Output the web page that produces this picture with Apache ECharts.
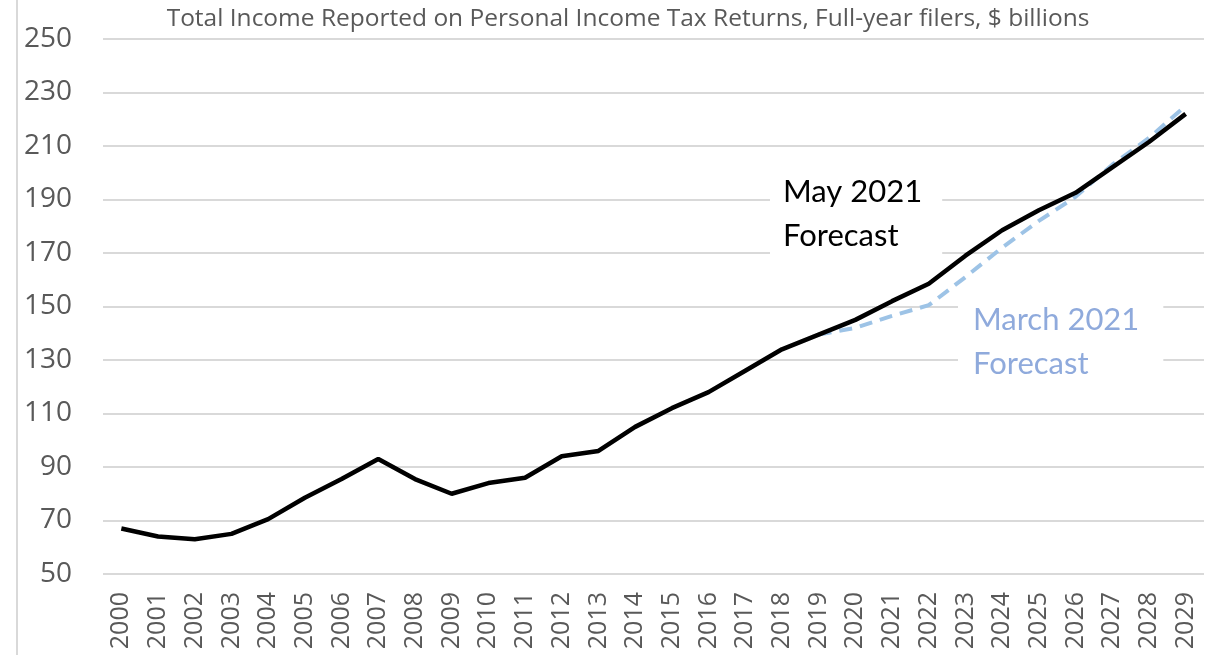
<!DOCTYPE html>
<html>
<head>
<meta charset="utf-8">
<script src="https://cdn.jsdelivr.net/npm/echarts@6/dist/echarts.min.js"></script>
<style>html,body{margin:0;padding:0;background:#fff}#c{width:1217px;height:655px}</style>
</head>
<body>
<div id="c"></div>
<script>
const years = ['2000','2001','2002','2003','2004','2005','2006','2007','2008','2009','2010','2011','2012','2013','2014','2015','2016','2017','2018','2019','2020','2021','2022','2023','2024','2025','2026','2027','2028','2029'];
const may2021 = [67,64,63,65,70.5,78.5,85.5,93,85.5,80,84,86,94,96,105,112,118,126,134,139.5,145,152,158.5,169,178.5,186,192.5,202,211.5,222];
const march2021 = [null,null,null,null,null,null,null,null,null,null,null,null,null,null,null,null,null,null,null,139.5,142,146.5,150.5,161,172,182,191,203,213,225];
const titleText = 'Total Income Reported on Personal Income Tax Returns, Full-year filers, $ billions';
const mayLabel = 'May 2021\nForecast';
const marchLabel = 'March 2021\nForecast';

const chart = echarts.init(document.getElementById('c'), null, {renderer:'canvas'});
const sans = '"Open Sans", sans-serif';
const lato = 'Lato, sans-serif';
chart.setOption({
  backgroundColor:'#fff',
  animation:false,
  title:{text:titleText,left:623,top:2,textAlign:'center',
    textStyle:{fontFamily:sans,fontSize:24.5,fontWeight:'normal',color:'#595959'}},
  grid:{left:103,right:13,top:39,bottom:81,containLabel:false},
  xAxis:{type:'category',data:years,boundaryGap:true,
    axisLine:{show:false},axisTick:{show:false},
    axisLabel:{rotate:90,fontFamily:sans,fontSize:25,color:'#595959',margin:18,interval:0}},
  yAxis:{type:'value',min:50,max:250,interval:20,
    axisLine:{show:false},axisTick:{show:false},
    splitLine:{lineStyle:{color:'#d9d9d9',width:2}},
    axisLabel:{fontFamily:sans,fontSize:28,color:'#595959',margin:31}},
  series:[
    {name:'March 2021 Forecast',type:'line',data:march2021,symbol:'none',
      lineStyle:{color:'#9dc3e6',width:4,type:[13,8]},z:2},
    {name:'May 2021 Forecast',type:'line',data:may2021,symbol:'none',
      lineStyle:{color:'#000',width:4.5},z:3}
  ],
  graphic:[
    {type:'line',shape:{x1:17,y1:0,x2:17,y2:655},style:{stroke:'#d9d9d9',lineWidth:2}},
    {type:'text',left:770,top:168,z:10,style:{text:mayLabel,font:'31px '+lato,fill:'#000',
      backgroundColor:'#fff',padding:[2,20,2,13],lineHeight:44}},
    {type:'text',left:958,top:296,z:10,style:{text:marchLabel,font:'31px '+lato,fill:'#8faadc',
      backgroundColor:'#fff',padding:[2,24,2,15],lineHeight:44}}
  ]
});
</script>
</body>
</html>
